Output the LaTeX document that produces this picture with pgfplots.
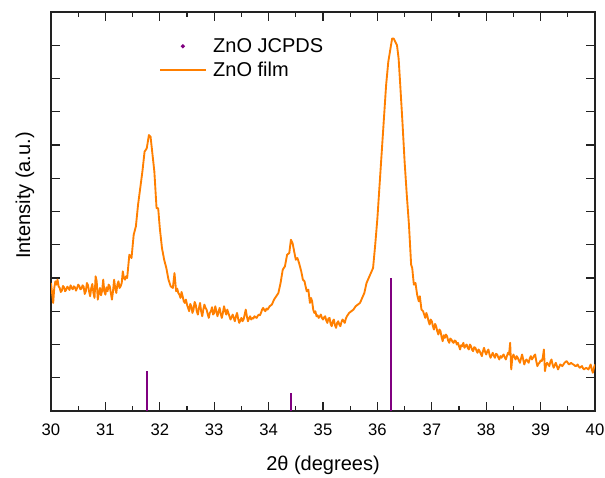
\documentclass[border=0pt]{standalone}
\usepackage{pgfplots}
\pgfplotsset{compat=1.18}
\usepackage{fontspec}
\setmainfont{Liberation Sans}
\definecolor{filmorange}{RGB}{255,127,0}
\definecolor{jcpds}{RGB}{128,0,128}
\definecolor{axisgray}{RGB}{34,34,34}

\pgfplotstableread{
x y
30.00 3.85
30.02 3.55
30.04 3.25
30.06 3.70
30.08 3.90
30.10 3.80
30.12 3.95
30.14 3.75
30.16 3.70
30.18 3.58
30.20 3.62
30.22 3.76
30.24 3.72
30.26 3.60
30.28 3.65
30.30 3.74
30.32 3.70
30.34 3.64
30.36 3.78
30.38 3.70
30.40 3.66
30.42 3.75
30.44 3.72
30.46 3.62
30.48 3.70
30.50 3.80
30.52 3.76
30.54 3.66
30.56 3.68
30.58 3.78
30.60 3.74
30.62 3.52
30.64 3.60
30.66 3.85
30.68 3.78
30.70 3.60
30.72 3.45
30.74 3.70
30.76 3.82
30.78 3.55
30.80 3.40
30.82 4.05
30.84 3.90
30.86 3.35
30.88 3.55
30.90 3.70
30.92 3.48
30.94 3.62
30.96 3.95
30.98 3.60
31.00 3.50
31.02 3.72
31.04 3.60
31.06 3.80
31.08 3.75
31.10 3.55
31.12 3.35
31.14 3.60
31.16 3.95
31.18 3.70
31.20 3.55
31.22 3.80
31.24 3.90
31.26 3.70
31.28 3.75
31.30 3.85
31.32 4.20
31.34 4.00
31.36 3.95
31.38 4.05
31.40 4.00
31.44 4.70
31.48 4.60
31.52 5.30
31.56 5.55
31.60 6.20
31.64 6.70
31.68 7.20
31.72 7.80
31.76 7.90
31.80 8.30
31.83 8.25
31.86 7.80
31.90 7.20
31.94 6.10
31.97 6.10
32.00 5.50
32.04 4.90
32.08 4.55
32.12 4.30
32.16 3.95
32.20 3.75
32.24 3.70
32.27 4.15
32.30 3.60
32.32 3.68
32.34 3.55
32.36 3.50
32.38 3.40
32.40 3.58
32.42 3.45
32.44 3.30
32.46 3.25
32.48 3.35
32.50 3.20
32.52 3.10
32.54 3.00
32.56 3.22
32.58 3.15
32.60 2.95
32.62 3.05
32.64 3.28
32.66 3.20
32.68 3.00
32.70 2.90
32.72 3.10
32.74 3.25
32.76 3.00
32.78 2.85
32.80 3.05
32.82 3.20
32.84 3.10
32.86 3.05
32.88 2.92
32.90 2.80
32.92 2.95
32.94 3.00
32.96 3.12
32.98 2.90
33.00 2.95
33.02 3.15
33.04 3.00
33.06 2.85
33.08 2.98
33.10 3.10
33.12 2.92
33.14 2.80
33.16 2.95
33.18 3.15
33.20 3.02
33.22 2.90
33.24 3.05
33.26 2.95
33.28 2.85
33.30 2.75
33.32 2.82
33.34 2.90
33.36 2.80
33.38 2.70
33.40 2.85
33.42 2.95
33.44 2.78
33.46 2.65
33.48 2.72
33.50 2.80
33.52 2.70
33.54 2.75
33.56 2.90
33.58 3.05
33.60 2.85
33.62 2.70
33.64 2.78
33.66 2.85
33.68 2.75
33.70 2.80
33.72 2.78
33.74 2.85
33.76 2.82
33.78 2.80
33.80 2.86
33.82 2.90
33.84 2.88
33.86 2.95
33.88 3.05
33.90 3.10
33.92 3.04
33.94 3.00
33.96 3.08
33.98 3.05
34.02 3.15
34.06 3.20
34.10 3.35
34.14 3.45
34.18 3.55
34.22 3.85
34.26 4.25
34.30 4.35
34.34 4.70
34.38 4.75
34.41 5.15
34.44 5.05
34.47 4.80
34.50 4.55
34.53 4.60
34.56 4.45
34.60 4.20
34.63 3.95
34.66 3.90
34.70 3.60
34.73 3.65
34.76 3.25
34.78 3.40
34.80 3.30
34.82 3.05
34.84 2.95
34.86 3.00
34.88 2.85
34.90 2.88
34.92 2.80
34.94 2.84
34.96 2.90
34.98 2.80
35.00 2.75
35.02 2.82
35.04 2.85
35.06 2.72
35.08 2.65
35.10 2.78
35.12 2.80
35.14 2.62
35.16 2.55
35.18 2.70
35.20 2.75
35.22 2.58
35.24 2.50
35.26 2.65
35.28 2.70
35.30 2.60
35.32 2.55
35.34 2.68
35.36 2.75
35.38 2.70
35.40 2.65
35.42 2.78
35.44 2.85
35.46 2.90
35.48 2.95
35.52 3.00
35.56 3.05
35.60 3.15
35.64 3.20
35.68 3.25
35.72 3.40
35.76 3.55
35.80 3.85
35.84 4.00
35.88 4.15
35.92 4.30
35.96 5.00
36.00 5.80
36.04 6.80
36.08 7.80
36.12 8.80
36.16 9.80
36.20 10.50
36.24 10.90
36.27 11.20
36.30 11.20
36.33 11.10
36.36 11.00
36.39 10.60
36.42 9.80
36.46 8.70
36.50 7.50
36.54 6.50
36.58 5.60
36.62 4.40
36.64 4.30
36.67 3.80
36.70 3.85
36.73 3.50
36.76 3.30
36.78 3.45
36.81 3.05
36.84 3.00
36.86 2.90
36.88 2.80
36.90 2.95
36.92 2.85
36.94 2.70
36.96 2.60
36.98 2.75
37.00 2.70
37.02 2.55
37.04 2.45
37.06 2.62
37.08 2.55
37.10 2.40
37.12 2.30
37.14 2.45
37.16 2.40
37.18 2.22
37.20 2.10
37.22 2.28
37.24 2.20
37.26 2.30
37.28 2.25
37.30 2.12
37.32 2.05
37.34 2.18
37.36 2.15
37.38 2.08
37.40 2.05
37.42 2.12
37.44 2.10
37.46 2.00
37.48 2.05
37.50 1.95
37.52 1.85
37.54 1.98
37.56 1.95
37.58 2.05
37.60 1.90
37.62 1.96
37.64 2.00
37.66 1.90
37.68 1.85
37.70 2.00
37.72 1.95
37.74 1.84
37.76 1.80
37.78 1.92
37.80 1.90
37.82 1.82
37.84 1.75
37.86 1.85
37.88 1.80
37.90 1.72
37.92 1.65
37.94 1.80
37.96 1.90
37.98 1.78
38.00 1.70
38.02 1.80
38.04 1.85
38.06 1.70
38.08 1.60
38.10 1.68
38.12 1.75
38.14 1.66
38.16 1.60
38.18 1.72
38.20 1.70
38.22 1.62
38.24 1.55
38.26 1.65
38.28 1.60
38.30 1.66
38.32 1.70
38.34 1.62
38.36 1.55
38.38 1.65
38.40 1.75
38.42 1.70
38.44 2.05
38.46 1.25
38.48 1.60
38.50 1.70
38.52 1.62
38.54 1.55
38.56 1.65
38.58 1.60
38.60 1.52
38.62 1.45
38.64 1.58
38.66 1.70
38.68 1.55
38.70 1.40
38.72 1.50
38.74 1.55
38.76 1.50
38.78 1.45
38.80 1.58
38.82 1.65
38.84 1.55
38.86 1.60
38.88 1.66
38.90 1.70
38.92 1.50
38.94 1.35
38.96 1.42
38.98 1.45
39.00 1.52
39.02 1.50
39.04 1.60
39.06 1.85
39.08 1.20
39.10 1.38
39.12 1.45
39.14 1.40
39.16 1.35
39.18 1.48
39.20 1.55
39.22 1.40
39.24 1.30
39.26 1.38
39.28 1.45
39.30 1.35
39.32 1.25
39.34 1.32
39.36 1.40
39.38 1.38
39.40 1.35
39.42 1.40
39.44 1.45
39.46 1.48
39.48 1.50
39.50 1.45
39.52 1.40
39.54 1.42
39.56 1.45
39.58 1.42
39.60 1.40
39.62 1.38
39.64 1.35
39.66 1.36
39.68 1.40
39.70 1.34
39.72 1.30
39.74 1.33
39.76 1.35
39.78 1.28
39.80 1.25
39.82 1.28
39.84 1.30
39.86 1.27
39.88 1.25
39.90 1.32
39.92 1.40
39.94 1.25
39.96 1.15
39.98 1.30
40.00 1.40
}\filmdata

\pgfplotstableread{
x y
31.77 1.21
34.42 0.53
36.25 4.00
}\jcpdsdata

\begin{document}
\begin{tikzpicture}
\begin{axis}[
    at={(0,0)}, anchor=south west,
    scale only axis,
    width=408pt, height=299.25pt,
    xmin=30, xmax=40,
    ymin=0, ymax=12,
    xtick={30,31,...,40},
    minor x tick num=1,
    ytick={0,1,...,12},
    yticklabels={},
    tick align=inside,
    major tick length=6.4pt,
    minor tick length=3.8pt,
    every tick/.style={axisgray, line width=0.8pt},
    axis line style={axisgray, line width=1.1pt},
    xticklabel style={yshift=-6pt},
    /pgf/number format/assume math mode=true,
    tick label style={font=\fontsize{12.5}{15}\selectfont},
    label style={font=\fontsize{15}{18}\selectfont},
    xlabel={2θ (degrees)},
    ylabel={Intensity (a.u.)},
    xlabel style={at={(axis description cs:0.5,-0.135)}, anchor=center},
    ylabel style={at={(axis description cs:-0.048,0.54)}, anchor=center},
    legend style={at={(rel axis cs:0.191,0.948)}, anchor=north west,
        draw=none, fill=none, font=\fontsize{15}{18}\selectfont,
        row sep=1.5pt, nodes={inner xsep=5pt}},
    legend cell align=left,
]
    \addplot[ycomb, jcpds, line width=1.5pt, no markers,
        legend image code/.code={\fill[jcpds] (0.6cm,0cm) circle (0.6pt);}]
        table {\jcpdsdata};
    \addlegendentry{ZnO JCPDS}
    \addplot[filmorange, line width=1.4pt, no markers, line join=round,
        legend image code/.code={\draw[filmorange, line width=1.4pt] (0cm,0cm) -- (1.2cm,0cm);}]
        table {\filmdata};
    \addlegendentry{ZnO film}
\end{axis}
\pgfresetboundingbox
\useasboundingbox (-38.25pt,-49.5pt) rectangle (415.5pt,308.25pt);
\end{tikzpicture}
\end{document}
